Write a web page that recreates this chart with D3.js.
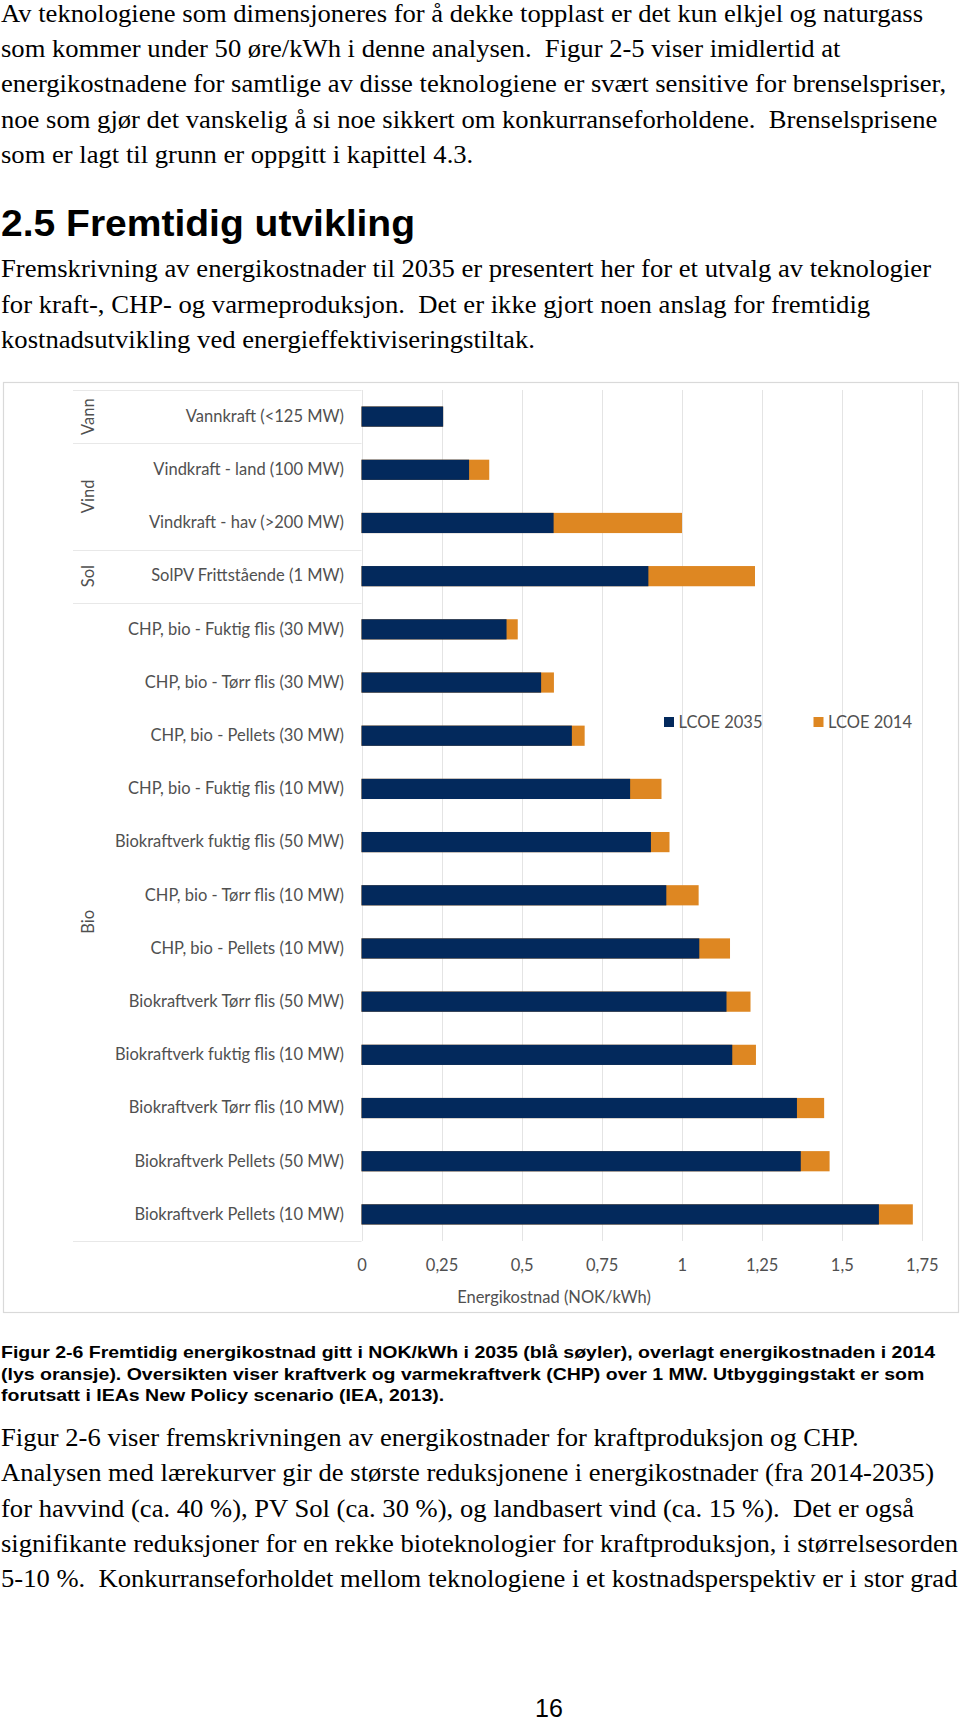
<!DOCTYPE html>
<html>
<head>
<meta charset="utf-8">
<script src="https://cdn.jsdelivr.net/npm/d3@7"></script>
<style>
  html, body { margin: 0; padding: 0; background: #ffffff; }
  svg { display: block; }
  text { white-space: pre; }
</style>
</head>
<body>
<div id="chart"></div>
<script>
// ---------------- DATA ----------------
const categories = [
  "Vannkraft (<125 MW)",
  "Vindkraft - land (100 MW)",
  "Vindkraft - hav (>200 MW)",
  "SolPV Frittstående (1 MW)",
  "CHP, bio - Fuktig flis (30 MW)",
  "CHP, bio - Tørr flis (30 MW)",
  "CHP, bio - Pellets (30 MW)",
  "CHP, bio - Fuktig flis (10 MW)",
  "Biokraftverk fuktig flis (50 MW)",
  "CHP, bio - Tørr flis (10 MW)",
  "CHP, bio - Pellets (10 MW)",
  "Biokraftverk Tørr flis (50 MW)",
  "Biokraftverk fuktig flis (10 MW)",
  "Biokraftverk Tørr flis (10 MW)",
  "Biokraftverk Pellets (50 MW)",
  "Biokraftverk Pellets (10 MW)"
];
const lcoe2035 = [0.255, 0.336, 0.600, 0.896, 0.453, 0.561, 0.657, 0.839, 0.904, 0.952, 1.055, 1.140, 1.158, 1.360, 1.372, 1.616];
const lcoe2014 = [0.255, 0.399, 1.001, 1.229, 0.488, 0.601, 0.697, 0.937, 0.962, 1.053, 1.151, 1.215, 1.232, 1.445, 1.462, 1.722];
const groupNames = ["Vann", "Vind", "Sol", "Bio"];
const groupFirst = [0, 1, 3, 4];
const groupLast  = [0, 2, 3, 15];
const seriesNames = ["LCOE 2035", "LCOE 2014"];
const xTickValues = [0, 0.25, 0.5, 0.75, 1, 1.25, 1.5, 1.75];
const xTickLabels = ["0", "0,25", "0,5", "0,75", "1", "1,25", "1,5", "1,75"];
const xAxisTitle = "Energikostnad (NOK/kWh)";

const para1 = [
  "Av teknologiene som dimensjoneres for å dekke topplast er det kun elkjel og naturgass",
  "som kommer under 50 øre/kWh i denne analysen.  Figur 2-5 viser imidlertid at",
  "energikostnadene for samtlige av disse teknologiene er svært sensitive for brenselspriser,",
  "noe som gjør det vanskelig å si noe sikkert om konkurranseforholdene.  Brenselsprisene",
  "som er lagt til grunn er oppgitt i kapittel 4.3."
];
const heading = "2.5 Fremtidig utvikling";
const para2 = [
  "Fremskrivning av energikostnader til 2035 er presentert her for et utvalg av teknologier",
  "for kraft-, CHP- og varmeproduksjon.  Det er ikke gjort noen anslag for fremtidig",
  "kostnadsutvikling ved energieffektiviseringstiltak."
];
const caption = [
  "Figur 2-6 Fremtidig energikostnad gitt i NOK/kWh i 2035 (blå søyler), overlagt energikostnaden i 2014",
  "(lys oransje). Oversikten viser kraftverk og varmekraftverk (CHP) over 1 MW. Utbyggingstakt er som",
  "forutsatt i IEAs New Policy scenario (IEA, 2013)."
];
const para3 = [
  "Figur 2-6 viser fremskrivningen av energikostnader for kraftproduksjon og CHP.",
  "Analysen med lærekurver gir de største reduksjonene i energikostnader (fra 2014-2035)",
  "for havvind (ca. 40 %), PV Sol (ca. 30 %), og landbasert vind (ca. 15 %).  Det er også",
  "signifikante reduksjoner for en rekke bioteknologier for kraftproduksjon, i størrelsesorden",
  "5-10 %.  Konkurranseforholdet mellom teknologiene i et kostnadsperspektiv er i stor grad"
];
const pageNumber = "16";

// ---------------- LAYOUT ----------------
const W = 960, H = 1721;
const NAVY = "#03295c", ORANGE = "#de8722", GRID = "#e4e4e4", LABEL = "#505050";
const chartFont = "Lato, 'Open Sans', sans-serif";

const svg = d3.select("#chart").append("svg")
  .attr("width", W).attr("height", H);

// text block helper: scale horizontally so a calibration line fits a measured width
function textBlock(lines, opts) {
  const g = svg.append("g");
  const nodes = lines.map((t, i) => g.append("text")
    .attr("x", opts.x)
    .attr("y", opts.y0 + i * opts.dy)
    .attr("font-family", opts.family)
    .attr("font-size", opts.size)
    .attr("font-weight", opts.weight || "normal")
    .attr("fill", "#000")
    .text(t));
  const natural = nodes[opts.calIndex].node().getComputedTextLength();
  const sx = opts.calWidth / natural;
  nodes.forEach(n => {
    const w = n.node().getComputedTextLength();
    n.attr("textLength", w * sx).attr("lengthAdjust", "spacingAndGlyphs");
  });
}

const serif = "'Liberation Serif', 'Times New Roman', serif";
const sans = "'Liberation Sans', Arial, sans-serif";

textBlock(para1, {x: 1, y0: 22, dy: 35.2, family: serif, size: 25, calIndex: 0, calWidth: 922});
textBlock([heading], {x: 1, y0: 236, dy: 0, family: sans, size: 37, weight: "bold", calIndex: 0, calWidth: 414});
textBlock(para2, {x: 1, y0: 277, dy: 35.5, family: serif, size: 25, calIndex: 0, calWidth: 930});
textBlock(caption, {x: 1, y0: 1358, dy: 21.5, family: sans, size: 17, weight: "bold", calIndex: 0, calWidth: 934});
textBlock(para3, {x: 1, y0: 1446, dy: 35.3, family: serif, size: 25, calIndex: 1, calWidth: 933});

svg.append("text")
  .attr("x", 549).attr("y", 1717)
  .attr("text-anchor", "middle")
  .attr("font-family", sans).attr("font-size", 25)
  .attr("fill", "#000")
  .text(pageNumber);

// ---------------- CHART ----------------
// outer chart frame
svg.append("rect")
  .attr("x", 3.5).attr("y", 382.5).attr("width", 955).attr("height", 930)
  .attr("fill", "#fff").attr("stroke", "#d9d9d9").attr("stroke-width", 1.2);

const plotTop = 390, plotBottom = 1241, plotLeft = 361.5, plotRight = 921.8, tableLeft = 73;

const x = d3.scaleLinear().domain([0, 1.75]).range([plotLeft, plotRight]);
const y = d3.scaleBand().domain(categories).range([plotTop, plotBottom])
  .paddingInner(0.62).paddingOuter(0.31);

const chart = svg.append("g");

// vertical gridlines
chart.append("g").selectAll("line").data(xTickValues).join("line")
  .attr("x1", d => Math.round(x(d)) + 0.5).attr("x2", d => Math.round(x(d)) + 0.5)
  .attr("y1", plotTop).attr("y2", plotBottom)
  .attr("stroke", GRID).attr("stroke-width", 1);

// category table separators (group boundaries)
const step = y.step();
const sepRows = [0].concat(groupLast.map(i => i + 1));
chart.append("g").selectAll("line").data(sepRows).join("line")
  .attr("x1", tableLeft).attr("x2", plotLeft)
  .attr("y1", r => Math.round(plotTop + r * step) + 0.5)
  .attr("y2", r => Math.round(plotTop + r * step) + 0.5)
  .attr("stroke", "#e8e8e8").attr("stroke-width", 1.2);

// bars: 2014 behind, 2035 on top (100% overlap)
const rows = categories.map((c, i) => ({c, v35: lcoe2035[i], v14: lcoe2014[i]}));
chart.append("g").selectAll("rect").data(rows).join("rect")
  .attr("x", x(0)).attr("y", d => y(d.c))
  .attr("width", d => x(d.v14) - x(0)).attr("height", y.bandwidth())
  .attr("fill", ORANGE);
chart.append("g").selectAll("rect").data(rows).join("rect")
  .attr("x", x(0)).attr("y", d => y(d.c))
  .attr("width", d => x(d.v35) - x(0)).attr("height", y.bandwidth())
  .attr("fill", NAVY);

// y axis (category labels)
const yAxis = chart.append("g")
  .attr("transform", `translate(${plotLeft},0)`)
  .call(d3.axisLeft(y).tickSize(0).tickPadding(17.5));
yAxis.select(".domain").remove();
yAxis.selectAll("text")
  .attr("font-family", chartFont).attr("font-size", 16.5).attr("fill", LABEL);

// group labels (rotated)
groupNames.forEach((name, i) => {
  const cy = (y(categories[groupFirst[i]]) + y(categories[groupLast[i]]) + y.bandwidth()) / 2;
  chart.append("text")
    .attr("transform", `translate(88,${cy}) rotate(-90)`)
    .attr("text-anchor", "middle").attr("dominant-baseline", "central")
    .attr("font-family", chartFont).attr("font-size", 16.5).attr("fill", LABEL)
    .text(name);
});

// x axis
const xAxis = chart.append("g")
  .attr("transform", `translate(0,${plotBottom})`)
  .call(d3.axisBottom(x).tickValues(xTickValues)
    .tickFormat((d, i) => xTickLabels[i]).tickSize(0).tickPadding(18));
xAxis.select(".domain").remove();
xAxis.selectAll("text")
  .attr("font-family", chartFont).attr("font-size", 16.5).attr("fill", LABEL);

chart.append("text")
  .attr("x", 554).attr("y", 1303)
  .attr("text-anchor", "middle")
  .attr("font-family", chartFont).attr("font-size", 16.5).attr("fill", LABEL)
  .text(xAxisTitle);

// legend
const legendX = [664, 813.5];
const legendColors = [NAVY, ORANGE];
const legend = chart.append("g").selectAll("g").data(seriesNames).join("g")
  .attr("transform", (d, i) => `translate(${legendX[i]},717)`);
legend.append("rect").attr("width", 10).attr("height", 10)
  .attr("fill", (d, i) => legendColors[i]);
legend.append("text").attr("x", 14.5).attr("y", 5).attr("dominant-baseline", "central")
  .attr("font-family", chartFont).attr("font-size", 16.5).attr("fill", LABEL)
  .text(d => d);
</script>
</body>
</html>
